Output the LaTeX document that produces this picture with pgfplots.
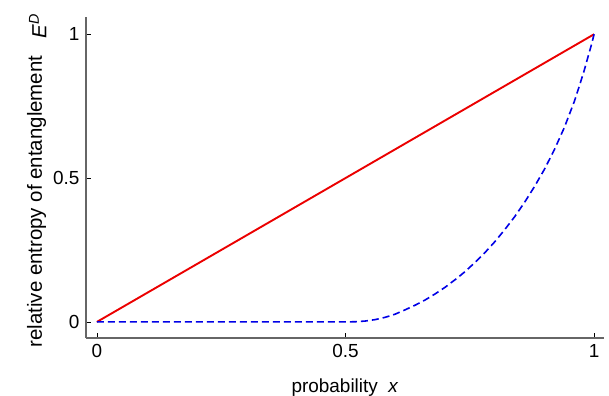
\documentclass[border=0pt]{standalone}
\usepackage{fontspec}
\setmainfont{Liberation Sans}
\usepackage{pgfplots}
\pgfplotsset{compat=1.18}
\begin{document}
\fontsize{19}{23}\selectfont
\begin{tikzpicture}
\begin{axis}[name=ax, scale only axis, width=518bp, height=321bp,
 xmin=-0.022, xmax=1.02, ymin=-0.056, ymax=1.06,
 axis x line=bottom, axis y line=left,
 axis line style={-, draw=black!60, line width=1.3bp},
 xtick={0,0.5,1}, ytick={0,0.5,1},
 xticklabels={0,0.5,1}, yticklabels={0,0.5,1},
 tick align=inside, major tick length=5bp,
 tick style={black, line width=0.7bp},
 ticklabel style={font=\fontsize{19}{23}\selectfont},
 xlabel={probability\ \ \textit{x}},
 ylabel={relative entropy of entanglement\hspace{17bp}\raisebox{-4.5bp}{\textit{E}\textsuperscript{\textit{D}}}},
 xlabel style={font=\fontsize{19}{23}\selectfont, at={(axis description cs:0.5,0)}, anchor=north, yshift=-34bp},
 ylabel style={font=\fontsize{20.5}{24}\selectfont, at={(axis description cs:0,0.49)}, anchor=south, yshift=33bp},
 clip=false,
]
\addplot[color={rgb,255:red,235;green,0;blue,0}, line width=1.9bp] coordinates {(0,0) (1,1)};
\addplot[color={rgb,255:red,0;green,0;blue,230}, line width=1.6bp, dash pattern=on 7bp off 4bp] coordinates {
(0,0) (0.50,0) (0.52,0.0005) (0.54,0.003) (0.56,0.008) (0.58,0.016) (0.60,0.027)
(0.62,0.042) (0.64,0.058) (0.66,0.076) (0.68,0.097) (0.70,0.120) (0.72,0.146)
(0.74,0.174) (0.76,0.206) (0.78,0.240) (0.80,0.278) (0.82,0.320) (0.84,0.365)
(0.86,0.415) (0.88,0.470) (0.90,0.530) (0.92,0.598) (0.94,0.675) (0.96,0.765)
(0.97,0.818) (0.98,0.873) (0.99,0.935) (0.995,0.965) (1.0,1.0)};
\end{axis}
\pgfresetboundingbox
\path ([shift={(-86bp,-58bp)}]ax.south west) rectangle ([shift={(5bp,17bp)}]ax.north east);
\end{tikzpicture}
\end{document}
